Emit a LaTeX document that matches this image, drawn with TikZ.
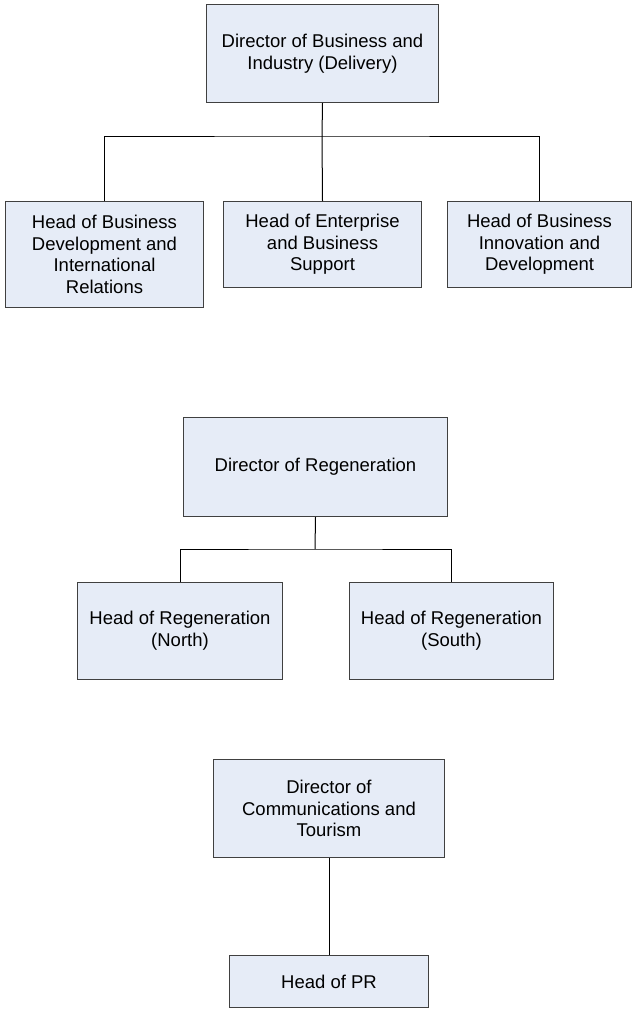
\documentclass[tikz,border=0pt]{standalone}
\usepackage{fontspec}
\setmainfont{Liberation Sans}
\usetikzlibrary{positioning}
\definecolor{boxblue}{RGB}{230,236,247}

\begin{document}
\begin{tikzpicture}[x=1pt, y=-1pt, line width=1pt]
    \tikzstyle{box}=[draw=black!75, fill=boxblue, anchor=north west, inner sep=0pt, align=center, font=\fontsize{18.5}{21.7}\selectfont]
    \useasboundingbox (0,0) rectangle (632,1009);

    % business and industry
    \node[box, minimum width=232pt, minimum height=98pt] (bi) at (206,4) {Director of Business and\\Industry (Delivery)};
    \node[box, minimum width=198pt, minimum height=106pt] (bd) at (5,201) {Head of Business\\Development and\\International\\Relations};
    \node[box, minimum width=198pt, minimum height=86pt] (es) at (223,201) {Head of Enterprise\\and Business\\Support};
    \node[box, minimum width=184pt, minimum height=86pt] (bid) at (447,201) {Head of Business\\Innovation and\\Development};
    \coordinate (j1) at (322,136);

    \draw (bi.south) -- (j1);
    \draw (bd.north) |- (j1) -| (bid.north);
    \draw (j1) -- (es.north);

    % regeneration
    \node[box, minimum width=264pt, minimum height=99pt] (rg) at (183,417) {Director of Regeneration};
    \node[box, minimum width=205pt, minimum height=97pt] (rn) at (77,582) {Head of Regeneration\\(North)};
    \node[box, minimum width=204pt, minimum height=97pt] (rs) at (349,582) {Head of Regeneration\\(South)};
    \coordinate (j2) at (315,549);

    \draw (rg.south) -- (j2);
    \draw (rn.north) |- (j2) -| (rs.north);

    % communications and tourism
    \node[box, minimum width=231pt, minimum height=98pt] (ct) at (213,759) {Director of\\Communications and\\Tourism};
    \node[box, minimum width=199pt, minimum height=52pt] (pr) at (229,955) {Head of PR};

    \draw (ct.south) -- (pr.north);
\end{tikzpicture}
\end{document}
